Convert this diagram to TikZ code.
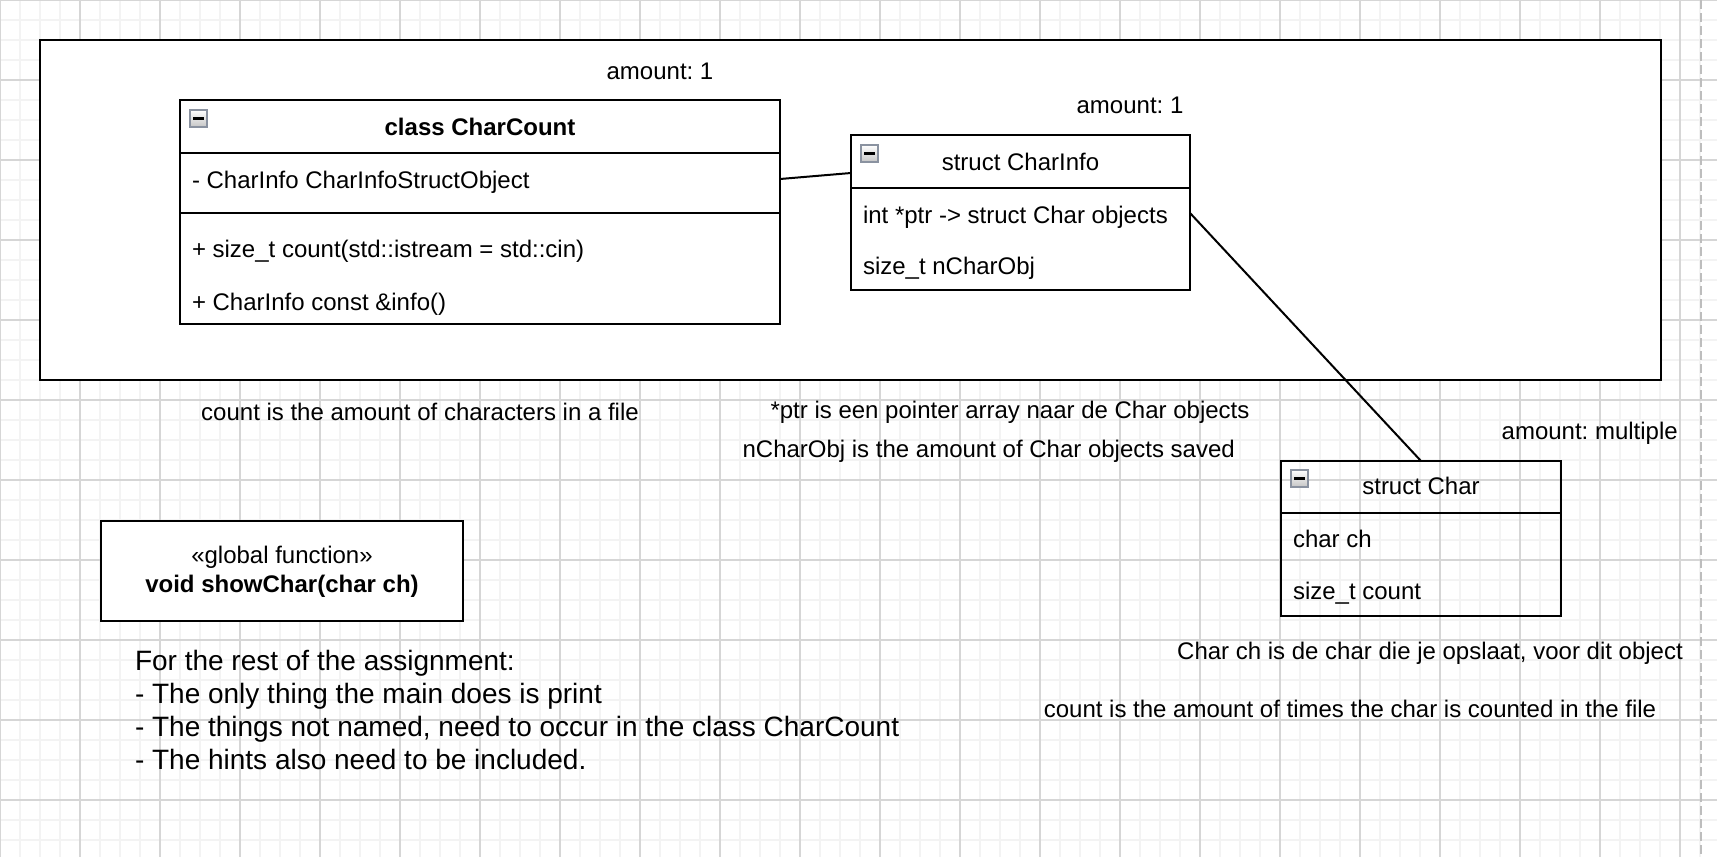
\documentclass[tikz,border=0pt]{standalone}
\usepackage{fontspec}
\setmainfont{Liberation Sans}
\usetikzlibrary{calc}
\frenchspacing
\definecolor{gridminor}{HTML}{F3F3F3}
\definecolor{gridmajor}{HTML}{D6D6D6}
\definecolor{iconborder}{HTML}{8A92A0}
\definecolor{pagedash}{HTML}{BDBDBD}
\tikzset{
  lbl/.style={font=\fontsize{24}{28}\selectfont, inner sep=0pt, outer sep=0pt, text=black},
  biglbl/.style={font=\fontsize{28}{33}\selectfont, inner sep=0pt, outer sep=0pt, text=black},
  box/.style={draw=black, line width=2.4pt, inner sep=0pt, outer sep=0pt, anchor=north west},
  sepline/.style={draw=black, line width=2.4pt},
  conn/.style={draw=black, line width=2pt},
  minusicon/.pic={
    \draw[iconborder, line width=1.6pt, top color=white, bottom color=gray!45] (0,0) rectangle (17,17);
    \draw[black, line width=2.6pt] (3,8.5) -- (14,8.5);
  }
}
\begin{document}
\begin{tikzpicture}[x=1pt,y=-1pt]
\useasboundingbox (0,0) rectangle (1717,857);
\fill[white] (0,0) rectangle (1717,857);
% grid
\foreach \i in {0,20,...,1720} \draw[gridminor, line width=1.3pt] (\i,0) -- (\i,857);
\foreach \j in {0,20,...,860} \draw[gridminor, line width=1.3pt] (0,\j) -- (1717,\j);
\foreach \i in {0,80,...,1680} \draw[gridmajor, line width=1.3pt] (\i,0) -- (\i,857);
\foreach \j in {0,80,...,800} \draw[gridmajor, line width=1.3pt] (0,\j) -- (1717,\j);
\draw[pagedash, line width=2pt, dash pattern=on 9pt off 4pt] (1701,0) -- (1701,857);

% outer frame
\node[box, fill=white, minimum width=1621pt, minimum height=340pt] (frame) at (40,40) {};

% class CharCount
\node[box, fill=white, minimum width=600pt, minimum height=224pt] (cc) at (180,100) {};
\draw[sepline] ([yshift=-53pt]cc.north west) -- ([yshift=-53pt]cc.north east);
\draw[sepline] ([yshift=-113pt]cc.north west) -- ([yshift=-113pt]cc.north east);
\pic at (190,110) {minusicon};
\node[lbl, anchor=base, font=\fontsize{24}{28}\selectfont\bfseries] (cc-title) at (480,135.6) {class CharCount};
\node[lbl, anchor=base west] (cc-a1) at (192,188) {- CharInfo CharInfoStructObject};
\node[lbl, anchor=base west] (cc-m1) at (192,257) {+ size\_t count(std::istream = std::cin)};
\node[lbl, anchor=base west] (cc-m2) at (192,310.5) {+ CharInfo const \&info()};

% struct CharInfo
\node[box, fill=white, minimum width=339pt, minimum height=155pt] (ci) at (851,135) {};
\draw[sepline] ([yshift=-53pt]ci.north west) -- ([yshift=-53pt]ci.north east);
\pic at (861,145) {minusicon};
\node[lbl, anchor=base] (ci-title) at (1020.5,170.5) {struct CharInfo};
\node[lbl, anchor=base west] (ci-a1) at (863,223) {int *ptr -> struct Char objects};
\node[lbl, anchor=base west] (ci-a2) at (863,274.5) {size\_t nCharObj};

% struct Char
\node[box, minimum width=280pt, minimum height=155pt] (ch) at (1281,461) {};
\draw[sepline] ([yshift=-52pt]ch.north west) -- ([yshift=-52pt]ch.north east);
\pic at (1291,470) {minusicon};
\node[lbl, anchor=base] (ch-title) at (1421,494.3) {struct Char};
\node[lbl, anchor=base west] (ch-a1) at (1293,547.3) {char ch};
\node[lbl, anchor=base west] (ch-a2) at (1293,599) {size\_t count};

% global function
\node[box, fill=white, minimum width=362pt, minimum height=100pt] (gf) at (101,521) {};
\node[lbl, anchor=base] (gf-st) at (282,563.3) {«global function»};
\node[lbl, anchor=base, font=\fontsize{24}{28}\selectfont\bfseries] (gf-name) at (282,592.7) {void showChar(char ch)};

% connectors
\path (cc.north east) ++(0,79) coordinate (cc-port);
\path (ci.north west) ++(0,38) coordinate (ci-inport);
\path (ci.north east) ++(0,78) coordinate (ci-port);
\draw[conn] (cc-port) -- (ci-inport);
\draw[conn] (ci-port) -- (ch.north);

% labels
\node[lbl, anchor=base] (amt1) at (660,79.6) {amount: 1};
\node[lbl, anchor=base] (amt2) at (1130,113.6) {amount: 1};
\node[lbl, anchor=base] (amt3) at (1589.7,439) {amount: multiple};
\node[lbl, anchor=base] (n1) at (420,420) {count is the amount of characters in a file};
\node[lbl, anchor=base] (n2) at (1010,418) {*ptr is een pointer array naar de Char objects};
\node[lbl, anchor=base] (n3) at (988.7,457.5) {nCharObj is the amount of Char objects saved};
\node[lbl, anchor=base] (n4) at (1430,659) {Char ch is de char die je opslaat, voor dit object};
\node[lbl, anchor=base] (n5) at (1350,717) {count is the amount of times the char is counted in the file};

% notes
\node[biglbl, anchor=base west] (r1) at (135,670) {For the rest of the assignment:};
\node[biglbl, anchor=base west] (r2) at (135,703) {- The only thing the main does is print};
\node[biglbl, anchor=base west] (r3) at (135,736) {- The things not named, need to occur in the class CharCount};
\node[biglbl, anchor=base west] (r4) at (135,769) {- The hints also need to be included.};
\end{tikzpicture}
\end{document}
